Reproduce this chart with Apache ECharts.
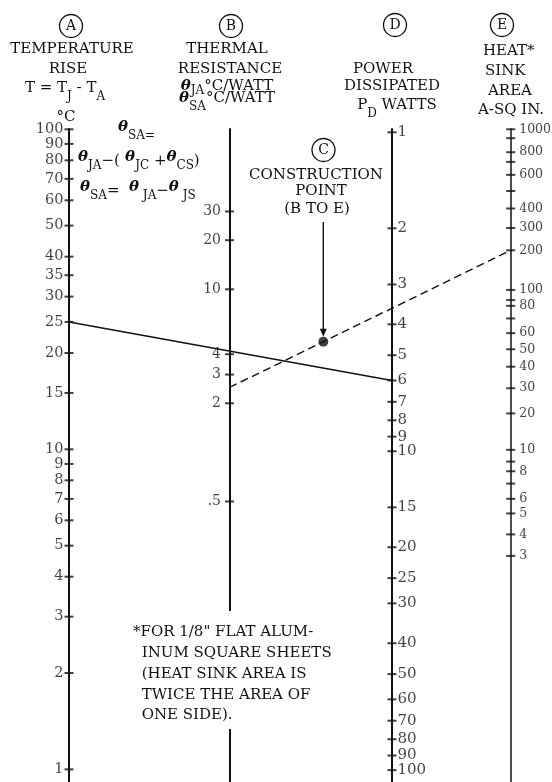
<!DOCTYPE html>
<html>
<head>
<meta charset="utf-8">
<script src="https://cdn.jsdelivr.net/npm/echarts@6/dist/echarts.min.js"></script>
<style>
  html, body { margin: 0; padding: 0; background: #fff; }
  #chart { width: 552px; height: 782px; }
</style>
</head>
<body>
<div id="chart"></div>
<script>
// ---- Scale values ----
// A: temperature rise T = TJ - TA (°C)
const tempRiseTicks = [100, 90, 80, 70, 60, 50, 40, 35, 30, 25, 20, 15, 10, 9, 8, 7, 6, 5, 4, 3, 2, 1];
// B: thermal resistance θJA / θSA (°C/W)
const thermalResTicks = [30, 20, 10, 4, 3, 2, 0.5];
// D: power dissipated PD (W)
const powerTicks = [1, 2, 3, 4, 5, 6, 7, 8, 9, 10, 15, 20, 25, 30, 40, 50, 60, 70, 80, 90, 100];
// E: heat sink area (sq in) and the sink-to-ambient resistance that sheet gives (°C/W)
const sinkArea    = [1000, 900, 800, 700, 600, 500, 400, 300, 200, 100, 90, 80, 70, 60, 50, 40, 30, 20, 10, 9, 8, 7, 6, 5, 4, 3];
const sinkThetaSA = [1.08, 1.15, 1.27, 1.36, 1.49, 1.67, 1.89, 2.17, 2.54, 3.36, 3.61, 3.76, 4.11, 4.56, 5.11, 5.78, 6.73, 8.04, 10.4, 11.3, 12.1, 13.2, 14.7, 16.3, 18.9, 22.0];
const sinkAreaUnlabeled = [900, 700, 500, 90, 70, 9, 7];

// ---- Worked example ----
const exampleTempRise = 25;  // °C, scale A
const examplePower = 6;      // W, scale D
const exampleThetaSA = 2.5;  // °C/W, scale B
const exampleArea = 200;     // sq in, scale E

// ---- Layout ----
const INK = '#111';
const FONT = 'DejaVu Serif, serif';
const X = { A: 69, B: 229.5, C: 323.3, D: 392, E: 510.7 };
const AX = { A: 0, B: 1, D: 2, E: 3 };

function scaleAxis(x, min, max, inverse, width) {
  return {
    type: 'log', logBase: 10, position: 'left', offset: -x,
    min: min, max: max, inverse: inverse,
    axisLine: { show: true, onZero: false, lineStyle: { color: INK, width: width } },
    axisTick: { show: false }, axisLabel: { show: false },
    splitLine: { show: false }, minorTick: { show: false }, minorSplitLine: { show: false }
  };
}

function fmtTick(v) { return String(v).replace(/^0\./, '.'); }

function tickSeries(axisIndex, data, side, dist, size, formatter) {
  return {
    type: 'scatter', xAxisIndex: 0, yAxisIndex: axisIndex, clip: false, silent: true,
    symbol: 'rect', symbolSize: [9, 2], itemStyle: { color: INK },
    data: data,
    label: {
      show: true, position: side, distance: dist, formatter: formatter,
      fontFamily: FONT, fontSize: size, color: INK
    },
    z: 5
  };
}

const tickLayer = [
  tickSeries(AX.A, tempRiseTicks.map(v => [X.A, v]), 'left', 1, 14.5, p => fmtTick(p.value[1])),
  tickSeries(AX.B, thermalResTicks.map(v => [X.B, v]), 'left', 4, 14, p => fmtTick(p.value[1])),
  tickSeries(AX.D, powerTicks.map(v => [X.D, v]), 'right', 1, 15, p => fmtTick(p.value[1])),
  tickSeries(AX.E, sinkArea.map((a, i) => ({ name: String(a), value: [X.E, sinkThetaSA[i]] })), 'right', 4, 12.5,
    p => sinkAreaUnlabeled.indexOf(+p.name) >= 0 ? '' : p.name)
];

// ---- Text ----
function txt(text, x, y, align, size) {
  return {
    type: 'text', x: x, y: y, z: 100, silent: true,
    style: {
      text: text, align: align || 'center', textAlign: align || 'center',
      verticalAlign: 'middle', textVerticalAlign: 'middle',
      fontFamily: FONT, fontSize: size || 15, fill: INK
    }
  };
}
const richStyles = {
  th: { fontFamily: FONT, fontSize: 15, fontWeight: 'bold', fontStyle: 'italic', lineHeight: 16, verticalAlign: 'top', fill: INK },
  n:  { fontFamily: FONT, fontSize: 15, lineHeight: 16, verticalAlign: 'top', fill: INK },
  m:  { fontFamily: FONT, fontSize: 15, lineHeight: 16, verticalAlign: 'top', padding: [4, 0, 0, 0], fill: INK },
  s:  { fontFamily: FONT, fontSize: 12, lineHeight: 14, verticalAlign: 'top', padding: [10, 0, 0, 0], fill: INK },
  h:  { fontFamily: FONT, fontSize: 12, lineHeight: 14, verticalAlign: 'top', padding: [6, 0, 0, 0], fill: INK }
};
function rich(text, x, top, align) {
  return {
    type: 'text', x: x, y: top, z: 100, silent: true,
    style: {
      text: text, rich: richStyles, align: align || 'center', textAlign: align || 'center',
      verticalAlign: 'top', textVerticalAlign: 'top', fontFamily: FONT, fontSize: 15, fill: INK
    }
  };
}
function badge(letter, cx, cy) {
  return [
    { type: 'circle', z: 100, silent: true, shape: { cx: cx, cy: cy, r: 11.5 },
      style: { fill: 'none', stroke: INK, lineWidth: 1.3 } },
    txt(letter, cx, cy + 0.5, 'center', 14)
  ];
}

const labels = [].concat(
  badge('A', 71, 26), badge('B', 231, 26), badge('C', 323.5, 150), badge('D', 395, 25), badge('E', 502, 25),
  [
    txt('TEMPERATURE', 72, 49.5), txt('RISE', 68, 69),
    rich('{n|T = T}{s|J}{n| - T}{s|A}', 65, 81), txt('°C', 66, 117),

    txt('THERMAL', 227, 49.5), txt('RESISTANCE', 230, 69),
    rich('{th|θ}{h|JA}{n|°C/WATT}', 227, 79), rich('{th|θ}{s|SA}{n|°C/WATT}', 227, 90.5),

    txt('POWER', 383, 69), txt('DISSIPATED', 392, 86.5), rich('{n|P}{s|D}{n| WATTS}', 397, 98),

    txt('HEAT*', 483, 51, 'left'), txt('SINK', 485, 71, 'left'),
    txt('AREA', 488, 91, 'left'), txt('A-SQ IN.', 478, 110, 'left'),

    rich('{th|θ}{s|SA}{s|=}', 118, 120, 'left'),
    rich('{th|θ}{s|JA}{m|−(}{th| θ}{s|JC}{m| +}{th|θ}{s|CS}{m|)}', 78, 149.5, 'left'),
    rich('{th|θ}{s|SA}{m|=  }{th|θ}{s| JA}{m|−}{th|θ}{s| JS}', 80, 179.5, 'left'),

    txt('CONSTRUCTION', 316, 175), txt('POINT', 321, 191.5), txt('(B TO E)', 317, 209),

    { type: 'rect', z: 99, silent: true, shape: { x: 131, y: 611, width: 214, height: 118 }, style: { fill: '#fff' } },
    txt('*FOR 1/8" FLAT ALUM-', 133, 632, 'left'),
    txt('INUM SQUARE SHEETS', 141.7, 653, 'left'),
    txt('(HEAT SINK AREA IS', 141.7, 674, 'left'),
    txt('TWICE THE AREA OF', 141.7, 695, 'left'),
    txt('ONE SIDE).', 141.7, 715, 'left')
  ]
);

function buildOption(extraSeries, extraGraphics) {
  return {
    animation: false,
    backgroundColor: '#fff',
    grid: { left: 0, right: 0, top: 129, bottom: 0, containLabel: false, outerBoundsMode: 'none' },
    xAxis: { type: 'value', min: 0, max: 552, show: false },
    yAxis: [
      scaleAxis(X.A, 0.913, 100.2, false, 2),
      scaleAxis(X.B, 0.00953, 96.1, false, 2),
      scaleAxis(X.D, 0.9764, 108.96, true, 2),
      scaleAxis(X.E, 1.0778, 108.7, true, 1.5)
    ],
    series: tickLayer.concat(extraSeries),
    graphic: { elements: labels.concat(extraGraphics) }
  };
}

const chart = echarts.init(document.getElementById('chart'));
chart.setOption(buildOption([], []));

// Construction lines are drawn once the scales exist, reading positions from the axes.
const toPx = (axis, v) => chart.convertToPixel({ yAxisIndex: axis }, v);
const fromPx = (axis, py) => chart.convertFromPixel({ yAxisIndex: axis }, py);

// Solid line: A (temperature rise) to D (power); it crosses B at θJA = T / PD.
const yPowerOnD = toPx(AX.D, examplePower);
const jaLine = {
  type: 'line', xAxisIndex: 0, yAxisIndex: AX.A, clip: false, silent: true, symbol: 'none',
  lineStyle: { color: INK, width: 1.4 }, z: 6,
  data: [[X.A, exampleTempRise], [X.D, fromPx(AX.A, yPowerOnD)]]
};

// Dashed line: θSA on B through construction point C to the heat sink area on E.
const thetaAtArea = sinkThetaSA[sinkArea.indexOf(exampleArea)];
const yB = toPx(AX.B, exampleThetaSA);
const yE = toPx(AX.E, thetaAtArea);
const yC = yB + (yE - yB) * (X.C - X.B) / (X.E - X.B);
const saLine = {
  type: 'line', xAxisIndex: 0, yAxisIndex: AX.B, clip: false, silent: true, symbol: 'none',
  lineStyle: { color: INK, width: 1.4, type: [8, 4.5] }, z: 6,
  data: [[X.B, exampleThetaSA], [X.E, fromPx(AX.B, yE)]]
};
const cPoint = {
  type: 'scatter', xAxisIndex: 0, yAxisIndex: AX.B, clip: false, silent: true,
  symbol: 'circle', symbolSize: 10, itemStyle: { color: INK }, z: 7,
  data: [[X.C, fromPx(AX.B, yC)]]
};

// Pointer from the construction-point caption down to C.
const arrow = [
  { type: 'line', z: 100, silent: true, shape: { x1: X.C, y1: 222, x2: X.C, y2: yC - 10 },
    style: { stroke: INK, lineWidth: 1.4 } },
  { type: 'polygon', z: 100, silent: true,
    shape: { points: [[X.C - 3.5, yC - 13], [X.C + 3.5, yC - 13], [X.C, yC - 5]] },
    style: { fill: INK } }
];

chart.setOption(buildOption([jaLine, saLine, cPoint], arrow), true);
</script>
</body>
</html>
